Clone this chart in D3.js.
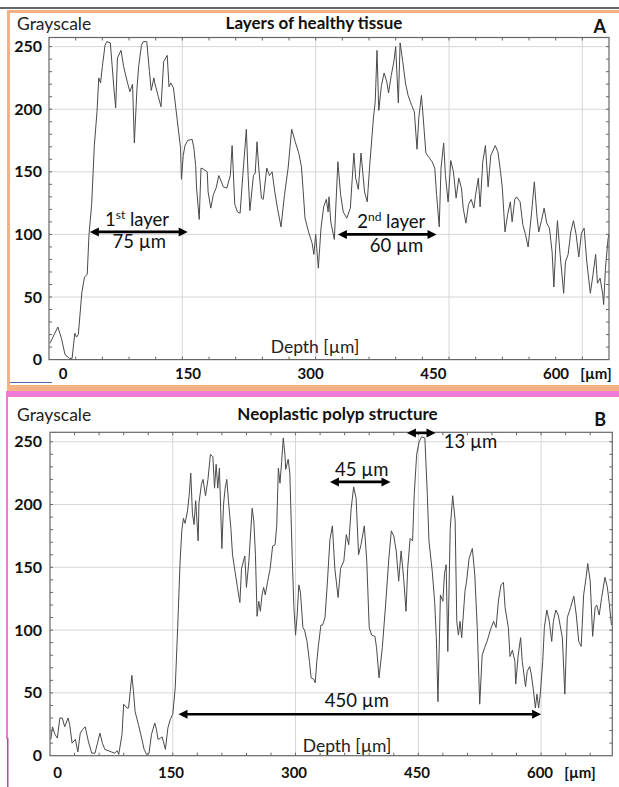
<!DOCTYPE html>
<html>
<head>
<meta charset="utf-8">
<script src="https://cdn.jsdelivr.net/npm/d3@7"></script>
<style>
  body { margin: 0; background: #fff; }
  svg { display: block; font-family: Lato, "Open Sans", sans-serif; }
</style>
</head>
<body>
<svg id="chart" width="619" height="787"></svg>
<script>
// profile A - healthy tissue
const depthA = [1,10,14,18,23,26,29,31,33,37,40,43,45,48,51,54,56,58,60,63,65,69,71,73,75,77,81,84,88,91,94,96,99,101,104,106,110,113,115,118,119,123,126,129,133,135,137,140,144,148,149,151,153,156,161,163,165,166,169,171,174,178,179,182,185,188,191,194,196,200,204,206,209,212,215,218,220,222,224,226,230,232,234,236,239,241,245,248,251,254,257,261,265,269,273,277,281,284,286,288,292,296,298,300,303,306,309,312,314,315,317,321,325,328,331,335,339,343,345,348,351,355,358,361,365,367,369,371,374,377,380,382,385,388,390,393,395,398,401,404,408,411,414,416,419,421,424,427,431,434,436,439,441,444,446,449,452,455,458,461,464,466,469,472,475,478,480,483,485,488,491,494,497,502,505,508,510,513,516,519,521,524,526,530,533,536,539,543,546,549,551,554,557,560,563,566,568,570,572,575,579,581,584,587,590,593,596,599,602,605,609,612,615,617,620,623,624,626,629,630]
const grayA  = [13,26,17,4,1,1,21,18,20,54,66,68,100,124,171,198,225,221,234,251,254,253,235,217,201,241,247,234,222,214,220,173,217,235,251,254,254,230,215,225,221,210,202,238,243,218,221,217,193,169,144,163,171,175,176,169,155,137,112,153,152,150,134,121,132,137,147,142,138,137,147,171,124,118,117,147,165,184,147,119,147,149,174,153,129,128,153,147,150,134,121,106,132,153,184,174,165,154,134,113,102,93,84,100,73,105,122,128,118,130,110,96,158,132,118,113,121,165,145,136,165,134,126,157,193,206,247,199,219,229,222,213,227,238,250,205,253,238,221,211,203,198,168,193,211,193,165,162,158,153,132,106,153,173,147,126,159,150,129,145,137,121,109,124,128,121,132,145,122,158,171,138,163,171,166,150,137,102,116,126,110,128,130,126,108,100,90,118,142,114,102,111,121,109,105,86,58,89,111,84,53,78,84,102,111,100,82,101,105,78,53,68,84,61,65,52,44,73,97,100]

// profile B - neoplastic polyp
const depthB = [1,3,6,9,12,15,18,22,24,27,31,34,37,40,43,47,51,55,58,61,64,67,71,75,79,82,84,88,90,94,96,98,100,102,104,108,112,115,118,121,124,128,130,132,135,137,141,144,147,150,153,156,159,161,163,165,168,170,172,174,176,178,181,182,185,187,190,193,196,199,201,203,205,207,210,212,214,216,218,221,223,226,229,232,234,238,240,243,247,249,251,253,255,257,259,261,263,266,269,272,275,277,279,281,283,285,287,288,291,293,296,298,300,302,304,306,309,311,314,317,319,322,324,326,328,331,333,336,339,342,345,348,352,355,359,362,365,368,371,374,377,380,384,387,390,393,397,399,402,406,410,414,417,420,423,426,429,432,435,437,440,443,445,448,451,454,458,461,463,467,470,472,474,477,480,482,484,486,489,492,495,497,499,501,503,507,509,512,516,519,522,525,528,531,534,538,542,545,548,551,554,556,560,562,565,568,569,572,575,577,581,583,586,588,591,593,595,597,599,602,604,607,610,613,615,618,621,626,629,632,636,640,643,646,649,652,655,657,660,663,666,668,671,674,678,681,683,686]
const grayB  = [13,23,17,14,30,30,23,30,25,10,13,3,18,21,23,11,2,2,10,18,10,5,4,3,2,4,1,17,41,38,38,51,64,51,35,25,14,5,1,2,17,26,21,13,14,15,5,22,29,33,54,102,155,179,189,185,195,207,225,193,184,203,171,201,216,220,207,220,240,238,213,232,213,229,165,200,213,220,203,181,160,147,134,122,149,159,134,155,197,187,160,111,123,115,128,134,128,139,149,167,168,183,229,217,234,253,240,228,236,225,157,118,96,112,136,130,102,100,91,75,62,61,58,75,88,104,104,110,139,172,183,149,126,149,155,176,168,197,214,205,160,168,183,155,102,96,95,86,62,86,120,157,179,175,163,139,163,142,115,149,173,171,208,240,250,254,253,208,171,147,122,94,43,128,123,145,152,83,181,207,187,107,96,107,94,131,139,157,165,144,102,41,80,86,91,100,107,102,124,136,138,118,102,79,84,75,57,80,94,75,55,67,71,65,50,38,49,38,49,75,102,116,107,91,107,116,112,94,49,110,118,127,112,91,87,128,142,153,139,95,118,120,112,126,142,134,123,104]

const xTicksMajor = [0, 150, 300, 450, 600]
const yTicksMajor = [0, 50, 100, 150, 200, 250]
// measured widths: [from, to, level] in depth / grayscale units
const arrowsA = [[46, 156, 102], [325, 436, 100]]
const arrowsB = [[342, 416, 218], [436, 471, 257], [157, 600, 33]]

const svg = d3.select('#chart')

// --- slide decoration: coloured frames ---
svg.append('line').attr('x1', 0).attr('x2', 619).attr('y1', 8).attr('y2', 8)
  .attr('stroke', '#333').attr('stroke-width', 1.5)
svg.append('rect').attr('x', 7).attr('y', 10).attr('width', 612).attr('height', 3).attr('fill', '#f5b083')
svg.append('rect').attr('x', 7).attr('y', 10).attr('width', 3).attr('height', 381).attr('fill', '#f5b083')
svg.append('rect').attr('x', 7).attr('y', 385).attr('width', 612).attr('height', 6).attr('fill', '#f5b083')
svg.append('rect').attr('x', 6).attr('y', 391).attr('width', 613).attr('height', 6).attr('fill', '#f07ad8')
svg.append('rect').attr('x', 6).attr('y', 391).attr('width', 2).attr('height', 348).attr('fill', '#f07ad8')
svg.append('rect').attr('x', 7).attr('y', 738).attr('width', 1.5).attr('height', 49).attr('fill', '#b04aa0')
svg.append('line').attr('x1', 10).attr('x2', 52).attr('y1', 382.5).attr('y2', 382.5)
  .attr('stroke', '#4a6bb0').attr('stroke-width', 1)

function drawArrow(g, x, y, a) {
  let xa = x(a[0]), xb = x(a[1]), yy = y(a[2])
  let head = 9, half = 4.5
  g.append('line')
    .attr('x1', xa + head - 1).attr('x2', xb - head + 1)
    .attr('y1', yy).attr('y2', yy)
    .attr('stroke', '#000').attr('stroke-width', 2.6)
  g.append('path')
    .attr('d', `M${xa},${yy}L${xa + head},${yy - half}L${xa + head},${yy + half}Z`)
    .attr('fill', '#000')
  g.append('path')
    .attr('d', `M${xb},${yy}L${xb - head},${yy - half}L${xb - head},${yy + half}Z`)
    .attr('fill', '#000')
}

function drawPanel(o) {
  let g = svg.append('g')
  let x = d3.scaleLinear().domain(o.xDomain).range(o.xRange)
  let y = d3.scaleLinear().domain(o.yDomain).range(o.yRange)
  let [x0, x1] = o.xRange
  let [y0, y1] = o.yRange

  // grid
  g.selectAll('.vgrid').data(xTicksMajor.filter(d => d > 0)).enter().append('line')
    .attr('x1', d => x(d)).attr('x2', d => x(d)).attr('y1', y0).attr('y2', y1)
    .attr('stroke', '#d6d6d6').attr('stroke-width', 1)
  g.selectAll('.hgrid').data(yTicksMajor.filter(d => d > 0)).enter().append('line')
    .attr('x1', x0).attr('x2', x1).attr('y1', d => y(d)).attr('y2', d => y(d))
    .attr('stroke', '#d6d6d6').attr('stroke-width', 1)

  // profile line
  let pts = o.depth.map((d, i) => [d, o.gray[i]])
  g.append('path')
    .datum(pts)
    .attr('fill', 'none')
    .attr('stroke', '#4a4a4a')
    .attr('stroke-width', 1)
    .attr('stroke-linejoin', 'round')
    .attr('d', d3.line().x(d => x(d[0])).y(d => y(d[1])))

  // frame
  g.append('rect')
    .attr('x', x0).attr('y', y1).attr('width', x1 - x0).attr('height', y0 - y1)
    .attr('fill', 'none').attr('stroke', '#666').attr('stroke-width', 1.2)

  // minor ticks on all sides, pointing inwards
  let xt = d3.range(30, o.xDomain[1], 30)
  let yt = d3.range(10, o.yDomain[1], 10)
  xt.forEach(d => {
    g.append('line').attr('x1', x(d)).attr('x2', x(d)).attr('y1', y0).attr('y2', y0 - 3).attr('stroke', '#666')
    g.append('line').attr('x1', x(d)).attr('x2', x(d)).attr('y1', y1).attr('y2', y1 + 3).attr('stroke', '#666')
  })
  yt.forEach(d => {
    g.append('line').attr('x1', x0).attr('x2', x0 + 3).attr('y1', y(d)).attr('y2', y(d)).attr('stroke', '#666')
    g.append('line').attr('x1', x1).attr('x2', x1 - 3).attr('y1', y(d)).attr('y2', y(d)).attr('stroke', '#666')
  })

  // tick labels
  g.selectAll('.ylab').data(yTicksMajor).enter().append('text')
    .attr('x', 42).attr('y', d => y(d) + 5.5)
    .attr('text-anchor', 'end')
    .attr('font-size', 16).attr('font-weight', 'bold').attr('fill', '#111')
    .text(d => d)
  g.selectAll('.xlab').data(xTicksMajor).enter().append('text')
    .attr('x', d => o.labelX(d)).attr('y', o.xLabelY)
    .attr('text-anchor', 'middle')
    .attr('font-size', 15).attr('font-weight', 'bold').attr('fill', '#111')
    .text(d => d)
  g.append('text')
    .attr('x', o.labelX(600) + 40).attr('y', o.xLabelY)
    .attr('text-anchor', 'middle')
    .attr('font-size', 15).attr('font-weight', 'bold').attr('fill', '#111')
    .text('[µm]')

  // headings
  g.append('text').attr('x', 17).attr('y', o.headY)
    .attr('font-size', 17.5).attr('fill', '#222').text('Grayscale')
  g.append('text').attr('x', o.titleX).attr('y', o.headY - 1)
    .attr('text-anchor', 'middle')
    .attr('font-size', 17).attr('font-weight', 'bold').attr('fill', '#111').text(o.title)
  g.append('text').attr('x', 606).attr('y', o.letterY)
    .attr('text-anchor', 'end')
    .attr('font-size', 18).attr('font-weight', 'bold').attr('fill', '#111').text(o.letter)
  g.append('text').attr('x', o.depthX).attr('y', o.depthY)
    .attr('text-anchor', 'middle')
    .attr('font-size', 17.5).attr('fill', '#222').text('Depth [µm]')

  o.arrows.forEach(a => drawArrow(g, x, y, a))
  return { g, x, y }
}

// Panel A
let pa = drawPanel({
  depth: depthA, gray: grayA,
  xDomain: [0, 630], xRange: [49, 609],
  yDomain: [0, 257.3], yRange: [359.6, 37.5],
  labelX: d3.scaleLinear().domain([0, 150, 600]).range([63, 188, 556]),
  xLabelY: 379, headY: 30, titleX: 314, letterY: 32.5,
  depthX: 315, depthY: 353,
  title: 'Layers of healthy tissue', letter: 'A',
  arrows: arrowsA
})

function layerLabel(p, cx, cy, num, sup) {
  let t = p.g.append('text').attr('x', p.x(cx)).attr('y', p.y(cy))
    .attr('text-anchor', 'middle').attr('font-size', 18.5).attr('fill', '#111')
  t.append('tspan').text(num)
  t.append('tspan').attr('font-size', 12).attr('dy', -7).text(sup)
  t.append('tspan').attr('dy', 7).text(' layer')
}
function plainLabel(p, cx, cy, txt, anchor) {
  p.g.append('text').attr('x', p.x(cx)).attr('y', p.y(cy))
    .attr('text-anchor', anchor || 'middle').attr('font-size', 18.5).attr('fill', '#111')
    .text(txt)
}

layerLabel(pa, 99, 107, '1', 'st')
plainLabel(pa, 101.5, 89, '75 µm')
layerLabel(pa, 385, 105, '2', 'nd')
plainLabel(pa, 391, 86.2, '60 µm')

// Panel B
let pb = drawPanel({
  depth: depthB, gray: grayB,
  xDomain: [0, 687], xRange: [50, 612.3],
  yDomain: [0, 257.5], yRange: [755.7, 432.3],
  labelX: d3.scaleLinear().domain([0, 150, 600]).range([57.5, 171, 540]),
  xLabelY: 778, headY: 421, titleX: 337.5, letterY: 426,
  depthX: 347, depthY: 751.7,
  title: 'Neoplastic polyp structure', letter: 'B',
  arrows: arrowsB
})
plainLabel(pb, 381, 223, '45 µm')
plainLabel(pb, 481, 245, '13 µm', 'start')
plainLabel(pb, 375, 39, '450 µm')
</script>
</body>
</html>
